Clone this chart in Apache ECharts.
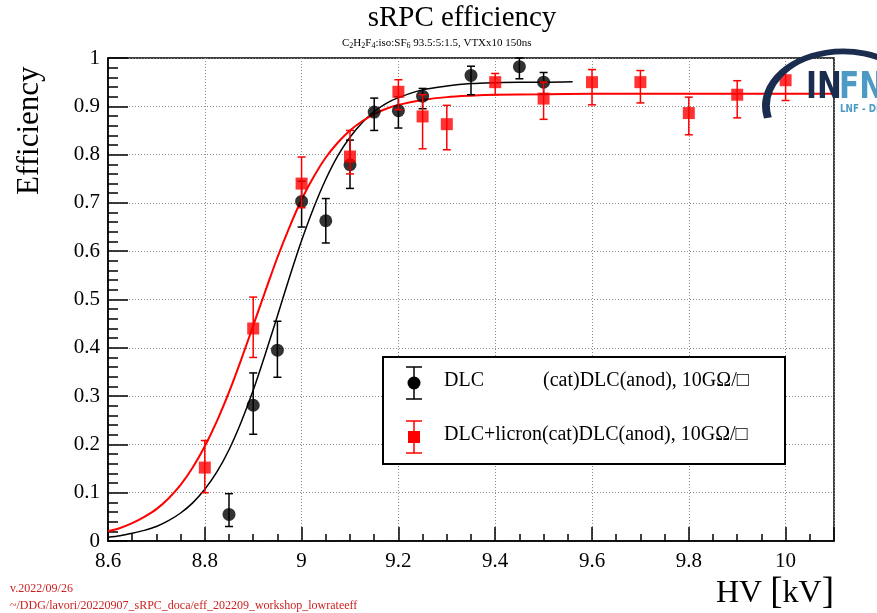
<!DOCTYPE html>
<html>
<head>
<meta charset="utf-8">
<script src="https://cdn.jsdelivr.net/npm/echarts@6/dist/echarts.min.js"></script>
<style>
  html, body { margin: 0; padding: 0; background: #fff; }
  #chart { width: 877px; height: 613px; }
</style>
</head>
<body>
<div id="chart"></div>
<script>
// HV values [kV] and measured efficiency (with error bar lows/highs)
const dlcHV = [8.85, 8.9, 8.95, 9.0, 9.05, 9.1, 9.15, 9.2, 9.25, 9.35, 9.45, 9.5]
const dlcEff = [0.055, 0.281, 0.395, 0.703, 0.663, 0.779, 0.888, 0.891, 0.921, 0.964, 0.982, 0.950]
const dlcLow = [0.030, 0.221, 0.339, 0.650, 0.617, 0.730, 0.850, 0.855, 0.895, 0.924, 0.957, 0.925]
const dlcHigh = [0.098, 0.348, 0.455, 0.745, 0.709, 0.830, 0.917, 0.920, 0.937, 0.983, 1.000, 0.970]

const licHV = [8.8, 8.9, 9.0, 9.1, 9.2, 9.25, 9.3, 9.4, 9.5, 9.6, 9.7, 9.8, 9.9, 10.0]
const licEff = [0.152, 0.440, 0.740, 0.796, 0.930, 0.879, 0.863, 0.950, 0.916, 0.950, 0.950, 0.886, 0.924, 0.954]
const licLow = [0.100, 0.380, 0.690, 0.760, 0.893, 0.812, 0.810, 0.924, 0.873, 0.903, 0.907, 0.841, 0.876, 0.912]
const licHigh = [0.208, 0.505, 0.795, 0.850, 0.955, 0.924, 0.902, 0.968, 0.950, 0.976, 0.974, 0.919, 0.953, 0.976]

// fit curves
const dlcFitHV = [8.6, 8.625, 8.65, 8.675, 8.7, 8.725, 8.75, 8.775, 8.8, 8.825, 8.85, 8.875, 8.9, 8.925, 8.95, 8.975,
  9.0, 9.025, 9.05, 9.075, 9.1, 9.125, 9.15, 9.175, 9.2, 9.25, 9.3, 9.35, 9.4, 9.45, 9.5, 9.56]
const dlcFit = [0.008, 0.011, 0.016, 0.022, 0.030, 0.042, 0.058, 0.079, 0.107, 0.143, 0.189, 0.246, 0.312, 0.387, 0.466, 0.546,
  0.622, 0.690, 0.749, 0.798, 0.836, 0.866, 0.889, 0.906, 0.918, 0.934, 0.942, 0.947, 0.949, 0.950, 0.950, 0.951]
const licFitHV = [8.6, 8.625, 8.65, 8.675, 8.7, 8.725, 8.75, 8.775, 8.8, 8.825, 8.85, 8.875, 8.9, 8.925, 8.95, 8.975,
  9.0, 9.025, 9.05, 9.075, 9.1, 9.125, 9.15, 9.175, 9.2, 9.25, 9.3, 9.35, 9.4, 9.5, 9.6, 10.1]
const licFit = [0.020, 0.027, 0.037, 0.050, 0.066, 0.088, 0.116, 0.152, 0.196, 0.248, 0.308, 0.375, 0.446, 0.517, 0.587, 0.650,
  0.707, 0.754, 0.794, 0.825, 0.850, 0.869, 0.884, 0.895, 0.903, 0.913, 0.919, 0.922, 0.924, 0.925, 0.926, 0.926]

const xTicks = { min: 8.6, max: 10.1, interval: 0.2 }
const yTicks = { min: 0, max: 1, interval: 0.1 }

const serif = '"Liberation Serif", "DejaVu Serif", serif'
const sans = '"DejaVu Sans", "Liberation Sans", sans-serif'

const chart = echarts.init(document.getElementById('chart'))

const zip = (a, b) => a.map((v, i) => [v, b[i]])
const zip3 = (a, b, c) => a.map((v, i) => [v, b[i], c[i]])

// vertical error bar with caps
const errorBars = (color) => (params, api) => {
  const x = api.value(0)
  const lo = api.coord([x, api.value(1)])
  const hi = api.coord([x, api.value(2)])
  const cap = 4
  const style = { stroke: color, lineWidth: 1.5 }
  return {
    type: 'group',
    children: [
      { type: 'line', shape: { x1: lo[0], y1: lo[1], x2: hi[0], y2: hi[1] }, style },
      { type: 'line', shape: { x1: lo[0] - cap, y1: lo[1], x2: lo[0] + cap, y2: lo[1] }, style },
      { type: 'line', shape: { x1: hi[0] - cap, y1: hi[1], x2: hi[0] + cap, y2: hi[1] }, style }
    ]
  }
}

const legendEntry = (y, color, marker) => [
  { type: 'line', shape: { x1: 414, y1: y - 16, x2: 414, y2: y + 16 }, style: { stroke: color, lineWidth: 1.5 }, z: 20 },
  { type: 'line', shape: { x1: 406, y1: y - 16, x2: 422, y2: y - 16 }, style: { stroke: color, lineWidth: 1.5 }, z: 20 },
  { type: 'line', shape: { x1: 406, y1: y + 16, x2: 422, y2: y + 16 }, style: { stroke: color, lineWidth: 1.5 }, z: 20 },
  marker
]

const option = {
  animation: false,
  backgroundColor: '#fff',
  textStyle: { fontFamily: serif },
  grid: {
    left: 108, right: 43, top: 58, bottom: 72,
    show: true, borderColor: '#000', borderWidth: 1.5, backgroundColor: 'transparent'
  },
  xAxis: {
    type: 'value',
    min: xTicks.min, max: xTicks.max, interval: xTicks.interval,
    axisLine: { show: true, onZero: false, lineStyle: { color: '#000', width: 1.5 } },
    axisTick: { inside: true, length: 14, lineStyle: { color: '#000', width: 1.5 } },
    minorTick: { show: true, splitNumber: 4, length: 7, lineStyle: { color: '#000', width: 1.5 } },
    axisLabel: { color: '#000', fontSize: 21, fontFamily: serif, margin: 10, showMaxLabel: false },
    splitLine: { show: true, lineStyle: { color: '#888', type: [1, 2], width: 1 } }
  },
  yAxis: {
    type: 'value',
    min: yTicks.min, max: yTicks.max, interval: yTicks.interval,
    axisLine: { show: true, lineStyle: { color: '#000', width: 1.5 } },
    axisTick: { inside: true, length: 20, lineStyle: { color: '#000', width: 1.5 } },
    minorTick: { show: true, splitNumber: 5, length: 10, lineStyle: { color: '#000', width: 1.5 } },
    axisLabel: { color: '#000', fontSize: 21, fontFamily: serif, margin: 8 },
    splitLine: { show: true, lineStyle: { color: '#888', type: [1, 2], width: 1 } }
  },
  series: [
    {
      name: 'DLC fit', type: 'line', data: zip(dlcFitHV, dlcFit), smooth: 0.3,
      showSymbol: false, lineStyle: { color: '#000', width: 1.5 }, z: 3
    },
    {
      name: 'licron fit', type: 'line', data: zip(licFitHV, licFit), smooth: 0.3,
      showSymbol: false, lineStyle: { color: '#ff0000', width: 2 }, z: 3
    },
    {
      type: 'custom', renderItem: errorBars('#000'), data: zip3(dlcHV, dlcLow, dlcHigh), z: 4
    },
    {
      name: 'DLC', type: 'scatter', symbol: 'circle', symbolSize: 13,
      itemStyle: { color: '#000' }, data: zip(dlcHV, dlcEff), z: 5
    },
    {
      type: 'custom', renderItem: errorBars('#ff0000'), data: zip3(licHV, licLow, licHigh), z: 6
    },
    {
      name: 'DLC+licron', type: 'scatter', symbol: 'rect', symbolSize: 12,
      itemStyle: { color: '#ff0000' }, data: zip(licHV, licEff), z: 7
    }
  ],
  graphic: [
    {
      type: 'text', x: 462, y: 4,
      style: { text: 'sRPC efficiency', font: '29px ' + serif, fill: '#000', align: 'center' }
    },
    {
      type: 'text', x: 342, y: 36, z: 10,
      style: {
        text: 'C{s|2}H{s|2}F{s|4}:iso:SF{s|6} 93.5:5:1.5, VTXx10 150ns',
        font: '11px ' + serif, fill: '#000',
        rich: { s: { fontSize: 8, fontFamily: serif, padding: [6, 0, 0, 0] } }
      }
    },
    {
      type: 'text', x: 14, y: 195, rotation: Math.PI / 2,
      style: { text: 'Efficiency', font: '31px ' + serif, fill: '#000' }
    },
    {
      type: 'text', x: 716, y: 575,
      style: {
        text: 'HV {b|[}kV{b|]}', font: '32px ' + serif, fill: '#000',
        rich: { b: { fontSize: 37, fontFamily: serif } }
      }
    },
    {
      type: 'text', x: 10, y: 583,
      style: { text: 'v.2022/09/26', font: '12px ' + serif, fill: '#cc1f1f' }
    },
    {
      type: 'text', x: 10, y: 600,
      style: { text: '~/DDG/lavori/20220907_sRPC_doca/eff_202209_workshop_lowrateeff', font: '12px ' + serif, fill: '#cc1f1f' }
    },
    // INFN logo (partly outside the window)
    {
      type: 'arc', shape: { cx: 843, cy: 106, r: 77, startAngle: Math.PI * 0.93, endAngle: Math.PI * 1.75 },
      scaleY: 0.71, originX: 843, originY: 106,
      style: { stroke: '#1b2d4f', lineWidth: 8, fill: null }, z: 15
    },
    {
      type: 'text', x: 806, y: 69, z: 15, scaleX: 0.78,
      style: { text: 'IN', font: 'bold 38px ' + sans, fill: '#1b2d4f' }
    },
    {
      type: 'text', x: 839, y: 69, z: 15, scaleX: 0.78,
      style: { text: 'FN', font: 'bold 38px ' + sans, fill: '#4d9ac4' }
    },
    {
      type: 'text', x: 840, y: 104, z: 15, scaleX: 0.8,
      style: { text: 'LNF - DDG', font: 'bold 11px ' + sans, fill: '#4d9ac4' }
    },
    // legend box
    {
      type: 'rect', shape: { x: 383, y: 357, width: 402, height: 107 },
      style: { fill: '#fff', stroke: '#000', lineWidth: 2 }, z: 19
    },
    ...legendEntry(383, '#000', {
      type: 'circle', shape: { cx: 414, cy: 383, r: 6.5 }, style: { fill: '#000' }, z: 21
    }),
    ...legendEntry(437, '#ff0000', {
      type: 'rect', shape: { x: 408, y: 431, width: 12, height: 12 }, style: { fill: '#ff0000' }, z: 21
    }),
    {
      type: 'text', x: 444, y: 371, z: 21,
      style: { text: 'DLC', font: '20px ' + serif, fill: '#000' }
    },
    {
      type: 'text', x: 543, y: 371, z: 21,
      style: { text: '(cat)DLC(anod), 10GΩ/□', font: '20px ' + serif, fill: '#000' }
    },
    {
      type: 'text', x: 444, y: 425, z: 21,
      style: { text: 'DLC+licron(cat)DLC(anod), 10GΩ/□', font: '20px ' + serif, fill: '#000' }
    }
  ]
}

chart.setOption(option)
</script>
</body>
</html>
